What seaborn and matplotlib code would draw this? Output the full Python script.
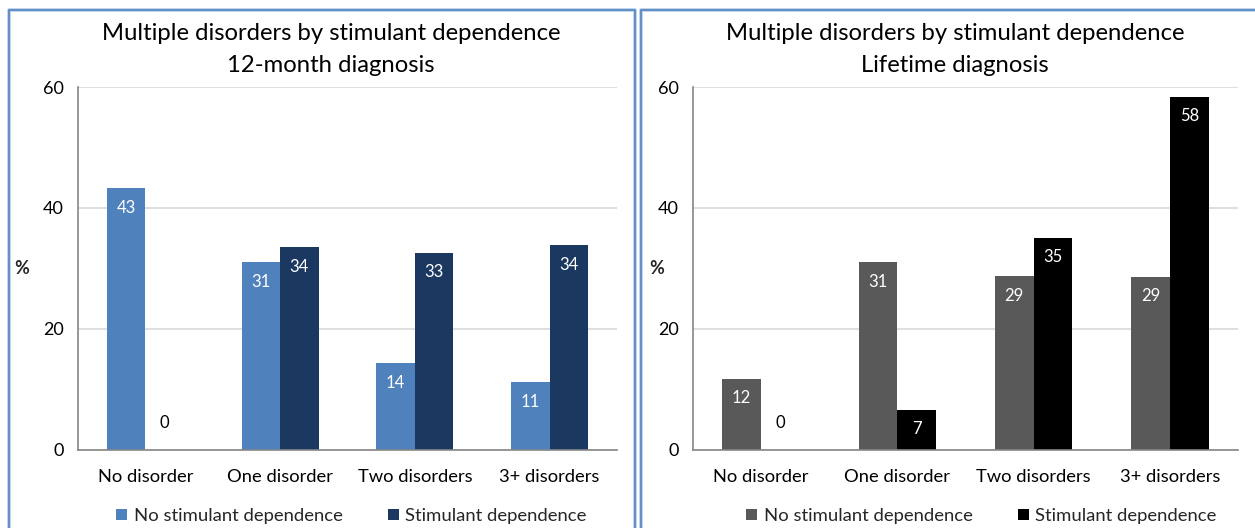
import matplotlib
matplotlib.use("Agg")
import matplotlib.pyplot as plt
from matplotlib.lines import Line2D
from matplotlib.patches import Patch
import seaborn as sns
import pandas as pd

# Data
categories = ["No disorder", "One disorder", "Two disorders", "3+ disorders"]
groups = ["No stimulant dependence", "Stimulant dependence"]
month12_no_stim = [43.2, 31.0, 14.3, 11.1]
month12_stim = [0.0, 33.5, 32.6, 33.8]
lifetime_no_stim = [11.7, 31.0, 28.7, 28.6]
lifetime_stim = [0.0, 6.6, 35.0, 58.4]
yticks = [0, 20, 40, 60]

panel_titles = [
    "Multiple disorders by stimulant dependence\n12-month diagnosis",
    "Multiple disorders by stimulant dependence\nLifetime diagnosis",
]
palettes = [["#4F81BD", "#1B3860"], ["#595959", "#000000"]]

sns.set_theme(style="white")
plt.rcParams["font.family"] = ["Lato", "DejaVu Sans"]

W, H = 1255, 528
fig = plt.figure(figsize=(W / 100, H / 100), dpi=100)
fig.patch.set_facecolor("white")

def fx(px):
    return px / W

def fy(py):
    return 1 - py / H

# Panel frames
frame_col = "#4A7EBB"
halo_col = "#B5CDE9"
for xs, ys in [([9, 9, 635, 635], [H + 5, 10, 10, H + 5]),
               ([641, 641, W + 5], [H + 5, 10, 10])]:
    fig.add_artist(Line2D([fx(x) for x in xs], [fy(y) for y in ys],
                          color=halo_col, lw=2.6, transform=fig.transFigure))
    fig.add_artist(Line2D([fx(x) for x in xs], [fy(y) for y in ys],
                          color=frame_col, lw=1.1, transform=fig.transFigure))

axes_px = [(78, 617), (693, 1238)]
title_cx = [331, 955]
legend_x = [116, 746]
pct_x = [22, 657]
datasets = [(month12_no_stim, month12_stim), (lifetime_no_stim, lifetime_stim)]

for i in range(2):
    x0, x1 = axes_px[i]
    y_top, y_bot = 87, 449.5
    ax = fig.add_axes([fx(x0), fy(y_bot), fx(x1) - fx(x0), (y_bot - y_top) / H])
    no_stim, stim = datasets[i]
    df = pd.DataFrame({
        "category": categories * 2,
        "group": [groups[0]] * 4 + [groups[1]] * 4,
        "value": list(no_stim) + list(stim),
    })
    sns.barplot(data=df, x="category", y="value", hue="group",
                order=categories, hue_order=groups, palette=palettes[i],
                width=0.57, gap=0, saturation=1, ax=ax, legend=False,
                errorbar=None, linewidth=0)
    ax.set_ylim(0, 60)
    ax.set_xlim(-0.5, 3.5)
    ax.set_yticks(yticks)
    ax.set_yticklabels([str(t) for t in yticks], fontsize=13, color="#000000")
    ax.set_xticks(range(4))
    ax.set_xticklabels(categories, fontsize=13.2, color="#000000")
    ax.set_xticks([-0.5, 0.5, 1.5, 2.5, 3.5], minor=True)
    ax.tick_params(axis="x", which="major", length=0, pad=14)
    ax.tick_params(axis="x", which="minor", length=6, width=1.2, color="#868686", direction="out")
    ax.tick_params(axis="y", which="major", length=6, width=1.2, color="#868686", direction="out", pad=4)
    ax.set_xlabel("")
    ax.set_ylabel("%", rotation=0, fontsize=13, fontweight="bold", va="center", ha="center")
    ax.yaxis.set_label_coords((pct_x[i] - x0) / (x1 - x0), 0.5)
    ax.grid(axis="y", color="#D9D9D9", lw=1.2)
    ax.set_axisbelow(True)
    for side in ["top", "right"]:
        ax.spines[side].set_visible(False)
    for side in ["left", "bottom"]:
        ax.spines[side].set_color("#868686")
        ax.spines[side].set_linewidth(1.2)

    # Value labels
    for container, vals in zip(ax.containers, (no_stim, stim)):
        for bar, v in zip(container.patches, vals):
            cx = bar.get_x() + bar.get_width() / 2
            if v <= 0.5:
                ax.annotate(f"{v:.0f}", (cx, 0), xytext=(0, 19), textcoords="offset points",
                            ha="center", va="center", fontsize=12, color="#000000")
            else:
                ax.annotate(f"{v:.0f}", (cx, v), xytext=(0, -14), textcoords="offset points",
                            ha="center", va="center", fontsize=12, color="white")

    line1, line2 = panel_titles[i].split("\n")
    fig.text(fx(title_cx[i]), fy(33), line1,
             ha="center", va="center", fontsize=17.2, color="#000000")
    fig.text(fx(title_cx[i]), fy(66), line2,
             ha="center", va="center", fontsize=17.2, color="#000000")

    handles = [Patch(facecolor=c, edgecolor="none") for c in palettes[i]]
    fig.legend(handles, groups, loc="center left",
               bbox_to_anchor=(fx(legend_x[i]), fy(516)), ncol=2, frameon=False,
               fontsize=13.3, handlelength=0.6, handleheight=0.6,
               handletextpad=0.35, columnspacing=2.45, borderaxespad=0, borderpad=0)

fig.savefig("out.png", dpi=100, facecolor="white")
